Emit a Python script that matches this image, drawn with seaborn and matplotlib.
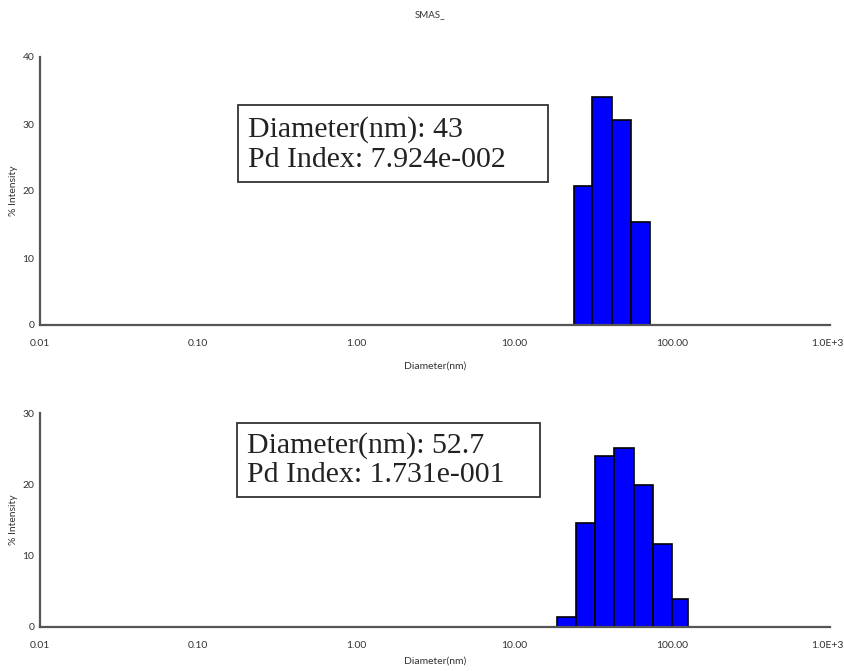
import numpy as np
import pandas as pd
import matplotlib
matplotlib.use("Agg")
import matplotlib.pyplot as plt
import matplotlib.ticker as mticker
import matplotlib.transforms as mtransforms
from matplotlib.patches import Rectangle
import seaborn as sns

# size distribution, sample 1 (top panel)
edges_top = [24.0, 31.2, 41.7, 55.0, 72.6]
intensity_top = [20.7, 34.0, 30.6, 15.4]
lines_top = ["Diameter(nm): 43", "Pd Index: 7.924e-002"]

# size distribution, sample 2 (bottom panel)
edges_bot = [18.7, 24.7, 32.6, 43.0, 57.5, 75.8, 100.0, 126.0]
intensity_bot = [1.4, 14.6, 24.0, 25.1, 19.9, 11.6, 3.9]
lines_bot = ["Diameter(nm): 52.7", "Pd Index: 1.731e-001"]

x_ticks = [0.01, 0.1, 1, 10, 100, 1000]
x_ticklabels = ["0.01", "0.10", "1.00", "10.00", "100.00", "1.0E+3"]
title = "SMAS_"

W, H = 845, 671

sns.set_style("white")
small_font = ["Liberation Sans Narrow", "Lato", "DejaVu Sans"]
serif_font = ["Liberation Serif", "DejaVu Serif"]
plt.rcParams["font.family"] = small_font

fig = plt.figure(figsize=(W / 100, H / 100), dpi=100)


def px_axes(left, top, right, bottom):
    return fig.add_axes([left / W, 1 - bottom / H, (right - left) / W, (bottom - top) / H])


ax_top = px_axes(40, 57, 830, 325)
ax_bot = px_axes(40, 413, 830, 627)

axis_color = "#555555"
text_color = "#333333"


def draw_panel(ax, edges, heights, ymax, xlabel_y):
    edges = np.asarray(edges)
    centers = np.sqrt(edges[:-1] * edges[1:])
    df = pd.DataFrame({"diameter": centers, "intensity": heights})
    # log_scale=True -> bin edges are given in log10 units
    sns.histplot(
        data=df, x="diameter", weights="intensity",
        bins=list(np.log10(edges)), log_scale=True,
        color="#0000ff", alpha=1.0, edgecolor="black", linewidth=1.2,
        ax=ax,
    )
    ax.set_xlim(0.01, 1000)
    ax.set_ylim(0, ymax)
    ax.set_xticks(x_ticks)
    ax.set_xticklabels(x_ticklabels)
    ax.xaxis.set_minor_locator(mticker.LogLocator(base=10, subs=np.arange(2, 10)))
    ax.xaxis.set_minor_formatter(mticker.NullFormatter())
    ax.set_yticks(np.arange(0, ymax + 1, 10))
    ax.yaxis.set_minor_locator(mticker.MultipleLocator(5))
    ax.tick_params(which="both", direction="inout", length=4, width=1,
                   color=axis_color, labelsize=7.5, pad=2, labelcolor=text_color)
    ax.tick_params(axis="x", which="major", pad=8)
    # keep the last x label inside the figure
    last = ax.get_xticklabels()[-1]
    last.set_transform(last.get_transform()
                       + mtransforms.ScaledTranslation(-3 / 100, 0, fig.dpi_scale_trans))
    for side in ["top", "right"]:
        ax.spines[side].set_visible(False)
    for side in ["left", "bottom"]:
        ax.spines[side].set_color(axis_color)
        ax.spines[side].set_linewidth(1.6)
    ax.set_xlabel("Diameter(nm)", fontsize=7.5, color=text_color)
    ax.set_ylabel("% Intensity", fontsize=7.5, color=text_color)
    ax.xaxis.set_label_coords(0.5, xlabel_y)
    ax.yaxis.set_label_coords(-22 / 790, 0.5)
    ax.grid(False)


def draw_box(lines, box, x_text, baselines):
    left, top, right, bottom = box
    fig.add_artist(Rectangle((left / W, 1 - bottom / H), (right - left) / W, (bottom - top) / H,
                             transform=fig.transFigure, facecolor="white",
                             edgecolor="#333333", linewidth=1.3, zorder=5))
    for line, yb in zip(lines, baselines):
        fig.text(x_text / W, 1 - yb / H, line, family=serif_font, fontsize=21.5,
                 color="#222222", ha="left", va="baseline", zorder=6)


draw_panel(ax_top, edges_top, intensity_top, 40, -0.136)
draw_panel(ax_bot, edges_bot, intensity_bot, 30, -0.138)

draw_box(lines_top, (238, 105, 548, 182), 248, (137, 167))
draw_box(lines_bot, (237, 423, 540, 497), 247, (453, 482))

fig.text(430 / W, 1 - 15 / H, title, ha="center", va="center", fontsize=7, color=text_color)

fig.savefig("out.png", dpi=100)
